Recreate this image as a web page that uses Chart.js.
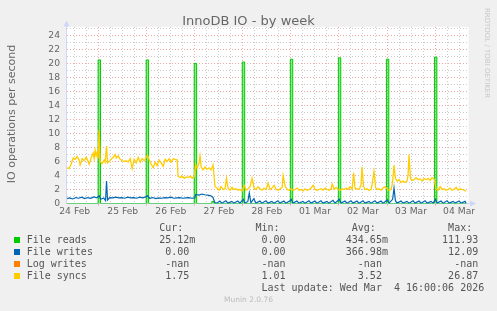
<!DOCTYPE html>
<html>
<head>
<meta charset="utf-8">
<title>InnoDB IO - by week</title>
<script src="https://cdn.jsdelivr.net/npm/chart.js"></script>
<style>
  body { margin: 0; background: #f0f0f0; }
  #wrap { position: relative; width: 497px; height: 311px; overflow: hidden; }
  #wrap div, #wrap pre { position: absolute; margin: 0; white-space: pre; }
  .title { left: 0; width: 497px; top: 12.5px; text-align: center; font: 13px 'DejaVu Sans'; line-height: 16px; color: #666; }
  .ylab { left: -88px; top: 107px; width: 200px; text-align: center; font: 11px 'DejaVu Sans'; line-height: 14px; color: #666; transform: rotate(-90deg); }
  .wm { left: 427px; top: 48px; width: 120px; text-align: center; font: 7px 'DejaVu Sans'; line-height: 10px; color: #c8c8c8; transform: rotate(90deg); }
  .munin { left: 0; width: 497px; top: 294px; text-align: center; font: 7.5px 'DejaVu Sans'; line-height: 12px; color: #bbb; }
  #legend { left: 26.7px; top: 221.5px; font: 10px 'DejaVu Sans Mono'; line-height: 12px; color: #555; }
  .sq { width: 6px; height: 6px; left: 14px; }
</style>
</head>
<body>
<div id="wrap">
  <canvas id="c" width="497" height="311"></canvas>
  <div class="title">InnoDB IO - by week</div>
  <div class="ylab">IO operations per second</div>
  <div class="wm">RRDTOOL / TOBI OETIKER</div>
  <pre id="legend"></pre>
  <div class="munin">Munin 2.0.76</div>
</div>
<script>
// hours counted from 24 Feb 00:00
const dayLabels = ['24 Feb', '25 Feb', '26 Feb', '27 Feb', '28 Feb', '01 Mar', '02 Mar', '03 Mar', '04 Mar'];

// stepped: each value holds until the next point
const fileReads = [[8.2,0],[23.7,20.5],[24.9,0],[47.7,20.5],[48.9,0],[71.7,20.0],[72.9,0],[80.5,0.3],[81.5,0],
  [95.7,20.2],[96.9,0],[119.7,20.6],[120.9,0],[143.7,20.8],[144.9,0],[167.7,20.6],[168.9,0],[191.7,20.9],[192.9,0],[207.5,0]];

const fileWrites = [[8.2,0.7],[9.5,0.8],[11,0.65],[12.5,0.85],[14,0.75],[15.5,0.9],[17,0.7],[18.5,0.85],[20,0.75],[21.5,0.95],
  [23,0.8],[24.2,1.1],[25,0.6],[26.5,0.8],[27.4,0.4],[27.9,3.2],[28.4,0.5],[29.5,0.85],[31,0.8],[32.5,0.9],[34,0.8],[35.5,0.85],
  [37,0.75],[38.5,0.9],[40,0.8],[41.5,0.85],[43,0.75],[44.5,0.9],[46,0.8],[47.5,0.95],[48.3,1.1],[49.5,0.75],[51,0.85],[52.5,0.7],
  [54,0.8],[55.5,0.75],[57,0.85],[58.5,0.8],[60,0.9],[61.5,0.75],[63,0.8],[64.5,0.85],[66,0.75],[67.5,0.8],[69,0.85],[70.5,0.75],
  [72,0.8],[72.5,1.3],[74,1.2],[75.5,1.35],[77,1.25],[78.5,1.2],[80,1.1],[81,0.9],[82,0.15],[83,0.05],[84.5,0.35],[85.5,0.05],
  [87.5,0.4],[88.5,0.05],[90.5,0.3],[91.5,0.05],[93.5,0.35],[94.5,0.05],[96.2,0.6],[97,0.05],[98.5,0.3],[99.2,1.5],[100,0.1],
  [101.5,0.7],[102.5,0.05],[104.5,0.35],[105.5,0.05],[107.5,0.4],[108.5,0.05],[110.5,0.3],[111.5,0.05],[113.5,0.4],[114.5,0.05],
  [116.5,0.35],[117.5,0.05],[119.5,0.4],[120.2,0.6],[121,0.05],[123,0.35],[124,0.05],[126,0.3],[127,0.05],[129,0.4],[130,0.05],
  [132,0.35],[133,0.05],[135,0.4],[136,0.05],[138,0.3],[139,0.05],[141,0.45],[142,0.05],[144.2,0.6],[145,0.05],[147,0.35],[148,0.05],
  [150,0.4],[151,0.05],[153,0.35],[154,0.05],[156,0.4],[157,0.05],[159,0.3],[160,0.05],[162,0.4],[163,0.05],[165,0.35],[166,0.05],
  [168.2,0.5],[169,0.05],[170.8,0.6],[171.5,2.2],[172.2,0.4],[173,0.05],[175,0.35],[176,0.05],[178,0.3],[179,0.05],[181,0.4],
  [182,0.05],[184,0.35],[185,0.05],[187,0.4],[188,0.05],[190,0.3],[191,0.05],[192.2,0.6],[193,0.05],[195,0.35],[196,0.05],
  [198,0.4],[199,0.05],[201,0.3],[202,0.05],[204,0.35],[205,0.05],[207,0.3],[207.5,0]];

const logWrites = [];

const fileSyncs = [[8.2,5.1],[9.2,5.0],[10.2,5.6],[11.2,6.5],[12.2,6.3],[13.2,6.7],[14.2,6.2],[14.7,5.5],[15.7,6.4],[16.7,6.1],
  [17.7,6.6],[18.7,6.0],[19.2,5.6],[20.2,6.5],[21.2,7.2],[21.7,6.4],[22.2,7.6],[22.7,6.8],[23.2,7.3],[23.7,6.4],[24.2,10.5],
  [24.7,6.0],[25.7,5.7],[26.7,6.2],[27.2,5.9],[27.9,8.2],[28.4,5.8],[29.2,6.0],[30.2,6.3],[31.2,6.6],[32.2,7.0],[32.7,6.5],
  [33.7,6.8],[34.7,6.3],[35.7,6.1],[36.7,6.0],[37.7,6.1],[38.7,5.9],[39.7,6.4],[40.7,5.0],[41.7,6.3],[42.7,5.8],[43.7,6.6],
  [44.7,5.9],[45.7,6.4],[46.7,6.1],[47.7,6.6],[48.4,6.9],[49.2,6.2],[50.2,5.6],[51.2,5.1],[52.2,5.9],[53.2,5.4],[54.2,6.2],
  [55.2,5.8],[56.2,5.3],[57.2,6.3],[58.2,6.0],[59.2,6.4],[60.2,5.9],[61.2,6.4],[62.2,6.3],[63.2,6.2],[63.6,3.9],[64.7,3.7],
  [65.7,3.9],[66.7,3.6],[67.7,3.8],[68.7,3.7],[69.7,3.9],[70.7,3.6],[71.7,3.8],[72.4,5.6],[73.1,5.0],[74.1,5.8],[74.6,6.8],
  [75.2,5.2],[76.1,4.8],[77.1,5.2],[78.1,4.9],[79.1,5.1],[80.1,4.8],[81.1,5.5],[82.1,2.4],[83.1,2.2],[84.1,1.9],[85.1,2.4],
  [86.1,2.0],[87.1,2.1],[87.8,3.6],[88.6,2.2],[89.6,1.9],[90.6,2.3],[91.6,2.0],[92.6,2.1],[93.6,1.9],[94.6,2.0],[95.6,1.8],
  [96.6,2.6],[97.6,1.9],[98.6,2.1],[99.6,2.4],[100.6,3.6],[101.6,2.2],[102.6,2.0],[103.6,2.4],[104.6,2.1],[105.6,1.9],[106.6,2.2],
  [107.6,2.0],[108.6,2.9],[109.6,2.0],[110.6,2.2],[111.6,2.6],[112.6,2.0],[113.6,1.9],[114.6,2.1],[115.6,2.3],[116.1,4.0],
  [117.1,2.5],[118.1,2.0],[119.1,1.9],[120.1,2.1],[121.1,1.9],[122.1,2.0],[123.1,2.2],[124.1,1.9],[125.1,2.0],[126.1,1.8],
  [127.1,2.1],[128.1,1.9],[129.1,2.0],[130.1,2.2],[131.1,2.6],[132.1,2.0],[133.1,1.9],[134.1,2.0],[135.1,2.1],[136.1,1.9],
  [137.1,2.2],[138.1,2.0],[139.1,1.9],[140.1,2.1],[140.6,2.8],[141.6,2.0],[142.6,2.3],[143.6,2.0],[144.6,1.9],[145.6,2.1],
  [146.6,2.0],[147.6,2.2],[148.6,2.0],[149.6,2.4],[150.6,2.0],[151.3,4.4],[152.0,2.2],[153.0,2.1],[154.0,2.0],[155.0,2.6],
  [155.5,5.2],[156.3,2.4],[157.0,2.0],[158.0,2.1],[159.0,1.9],[160.0,2.0],[160.5,2.6],[161.5,4.6],[162.3,2.3],[163.0,2.0],
  [164.0,2.1],[165.0,1.9],[166.0,2.2],[167.0,2.4],[168.0,2.1],[169.0,1.9],[170.0,2.0],[170.7,2.8],[171.5,5.5],[172.2,3.6],
  [173.0,3.2],[174.0,3.4],[175.0,3.0],[176.0,3.2],[177.0,3.0],[178.0,3.2],[178.5,4.0],[179.0,7.0],[179.7,3.6],[180.5,3.3],
  [181.5,3.4],[182.5,3.7],[183.5,3.4],[184.5,3.5],[185.5,3.2],[186.5,3.6],[187.5,3.4],[188.5,3.6],[189.5,3.3],[190.5,3.7],
  [191.5,3.5],[192.5,2.1],[193.5,1.9],[194.5,2.4],[195.5,2.0],[196.5,2.1],[197.5,1.9],[198.5,2.0],[199.5,2.2],[200.5,1.9],
  [201.5,2.0],[202.5,2.3],[203.5,1.9],[204.5,2.1],[205.5,2.0],[206.5,1.9],[207.5,1.75]];

// legend table (rrdtool style strings)
const seriesNames = ['File reads', 'File writes', 'Log writes', 'File syncs'];
const curValues = ['25.12m', '0.00 ', '-nan ', '1.75 '];
const minValues = ['0.00 ', '0.00 ', '-nan ', '1.01 '];
const avgValues = ['434.65m', '366.98m', '-nan ', '3.52 '];
const maxValues = ['111.93 ', '12.09 ', '-nan ', '26.87 '];
const lastUpdate = 'Last update: Wed Mar  4 16:00:06 2026';

const MAJOR = 'rgba(222,79,79,0.5)';
const MINOR = 'rgba(143,143,143,0.45)';
const AXIS = '#CFD6F8';

const xy = arr => arr.map(p => ({ x: p[0], y: p[1] }));

const frame = {
  id: 'frame',
  beforeDraw(chart) {
    const { ctx, chartArea: a } = chart;
    ctx.save();
    ctx.fillStyle = '#fff';
    ctx.fillRect(a.left, a.top, a.right - a.left, a.bottom - a.top);
    ctx.restore();
  },
  afterDraw(chart) {
    const { ctx, chartArea: a } = chart;
    const x0 = a.left + 0.5, y0 = a.bottom;
    ctx.save();
    ctx.strokeStyle = AXIS;
    ctx.fillStyle = AXIS;
    ctx.lineWidth = 1;
    ctx.beginPath();
    ctx.moveTo(x0, a.top); ctx.lineTo(x0, a.top - 1);
    ctx.moveTo(a.right, y0); ctx.lineTo(a.right + 2, y0);
    ctx.stroke();
    ctx.beginPath();
    ctx.moveTo(x0 - 3, a.top - 0.5); ctx.lineTo(x0 + 3, a.top - 0.5); ctx.lineTo(x0, a.top - 6.5);
    ctx.closePath(); ctx.fill();
    ctx.beginPath();
    ctx.moveTo(a.right + 1.5, y0 - 3); ctx.lineTo(a.right + 1.5, y0 + 3); ctx.lineTo(a.right + 7.5, y0);
    ctx.closePath(); ctx.fill();
    ctx.restore();
  }
};

const tickFont = { family: 'DejaVu Sans', size: 9.2 };

const chart = new Chart(document.getElementById('c'), {
  type: 'line',
  data: {
    datasets: [
      { label: 'File reads', data: xy(fileReads), borderColor: '#00CC00', backgroundColor: 'rgba(0,204,0,0.45)',
        fill: 'origin', stepped: 'before', order: 4 },
      { label: 'File writes', data: xy(fileWrites), borderColor: '#0066B3', borderWidth: 1.2, order: 3 },
      { label: 'Log writes', data: xy(logWrites), borderColor: '#FF8000', order: 2 },
      { label: 'File syncs', data: xy(fileSyncs), borderColor: '#FFCC00', borderWidth: 1.3, order: 1 }
    ]
  },
  options: {
    responsive: false,
    animation: false,
    devicePixelRatio: 1,
    elements: { point: { radius: 0 }, line: { borderWidth: 1, tension: 0 } },
    layout: { padding: { left: 0, top: 27, right: 28.5, bottom: 87.5 } },
    plugins: { legend: { display: false }, tooltip: { enabled: false }, title: { display: false } },
    scales: {
      x: {
        type: 'linear', min: 7.65, max: 208.7,
        afterBuildTicks: s => {
          const t = [];
          for (let h = 12; h <= s.max; h += 6) t.push({ value: h });
          s.ticks = t;
        },
        ticks: {
          autoSkip: false, maxRotation: 0, padding: 1, color: '#666', font: tickFont,
          callback: v => v % 24 === 12 ? dayLabels[(v - 12) / 24] : ''
        },
        grid: {
          color: c => c.tick && c.tick.value % 24 === 0 ? MAJOR : MINOR,
          tickColor: c => c.tick && c.tick.value % 24 === 0 ? MAJOR : 'rgba(0,0,0,0)',
          tickLength: 2
        },
        border: { color: AXIS, dash: [1, 2] },
        afterFit: s => { s.height = 20; }
      },
      y: {
        min: 0, max: 25.2,
        afterBuildTicks: s => {
          const t = [];
          for (let v = 0; v <= 25; v++) t.push({ value: v });
          s.ticks = t;
        },
        ticks: {
          autoSkip: false, padding: 6, color: '#666', font: tickFont,
          callback: v => v % 2 === 0 ? v : ''
        },
        grid: {
          drawTicks: false,
          color: c => c.tick && c.tick.value === 0 ? 'rgba(0,0,0,0)' : (c.tick && c.tick.value % 2 === 0 ? MAJOR : MINOR)
        },
        border: { color: AXIS, dash: [1, 2] },
        afterFit: s => { s.width = 66; }
      }
    }
  },
  plugins: [frame]
});

// legend below the plot
const ends = [28, 44, 60, 76];
const rows = ['                      Cur:            Min:            Avg:            Max:'];
seriesNames.forEach((name, i) => {
  let s = name;
  [curValues[i], minValues[i], avgValues[i], maxValues[i]].forEach((v, k) => { s = s.padEnd(ends[k] - v.length) + v; });
  rows.push(s);
});
rows.push(' '.repeat(39) + lastUpdate);
document.getElementById('legend').textContent = rows.join('\n');
const wrap = document.getElementById('wrap');
chart.data.datasets.forEach((ds, i) => {
  const sq = document.createElement('div');
  sq.className = 'sq';
  sq.style.top = (221.5 + 12 * (i + 1) + 3) + 'px';
  sq.style.background = ds.borderColor;
  wrap.appendChild(sq);
});
</script>
</body>
</html>
